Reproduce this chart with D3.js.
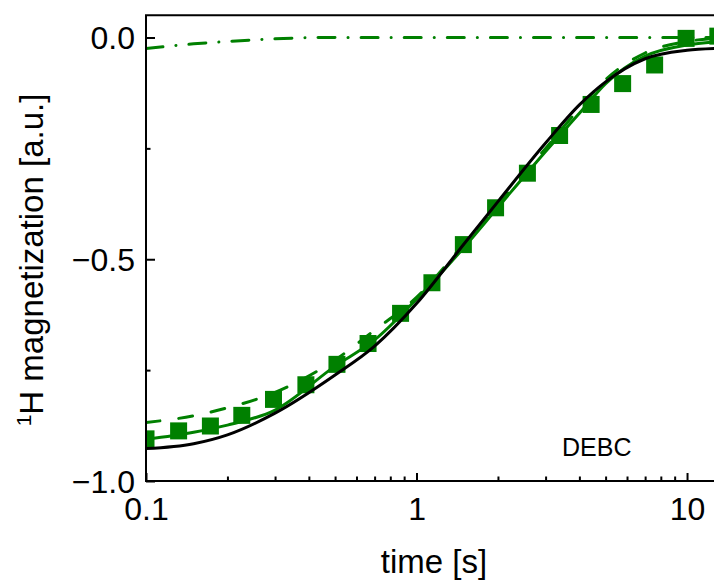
<!DOCTYPE html>
<html>
<head>
<meta charset="utf-8">
<script src="https://cdn.jsdelivr.net/npm/d3@7"></script>
<style>
  body { margin: 0; background: #fff; }
  svg { display: block; }
  text { font-family: "Liberation Sans", Arial, Helvetica, sans-serif; fill: #000; }
</style>
</head>
<body>
<svg id="chart" width="714" height="580"></svg>
<script>
// Measured 1H magnetization recovery (DEBC)
const pointTime = [0.1, 0.132, 0.173, 0.226, 0.296, 0.39, 0.508, 0.662, 0.873, 1.14,
                   1.49, 1.96, 2.57, 3.38, 4.42, 5.78, 7.59, 9.92, 13.0];
const pointMag  = [-0.905, -0.887, -0.876, -0.852, -0.816, -0.783, -0.737, -0.690, -0.622, -0.553,
                   -0.467, -0.384, -0.306, -0.221, -0.151, -0.104, -0.062, -0.002, 0.003];

// Model curves sampled on a common time grid
const fitTime        = [0.1, 0.15, 0.2, 0.3, 0.5, 0.7, 1, 1.5, 2, 3, 4, 5, 7, 10, 12.6];
const fitBlack       = [-0.927, -0.916, -0.896, -0.847, -0.761, -0.696, -0.600, -0.465, -0.370, -0.238, -0.152, -0.100, -0.048, -0.029, -0.025];
const fitGreen       = [-0.906, -0.890, -0.874, -0.840, -0.741, -0.682, -0.590, -0.473, -0.383, -0.257, -0.171, -0.104, -0.042, -0.017, -0.010];
const fitGreenDashed = [-0.868, -0.853, -0.835, -0.800, -0.727, -0.660, -0.586, -0.465, -0.378, -0.250, -0.160, -0.095, -0.035, -0.009, -0.002];
const fitGreenDashDot= [-0.025, -0.0144, -0.009, -0.003, 0, 0, 0, 0, 0, 0, 0, 0, 0, 0, 0];

// Axis ticks
const xMajorTicks = [0.1, 1, 10];
const xTickLabels = ["0.1", "1", "10"];
const xMinorTicks = [0.2, 0.3, 0.4, 0.5, 0.6, 0.7, 0.8, 0.9, 2, 3, 4, 5, 6, 7, 8, 9];
const yMajorTicks = [-1, -0.5, 0];
const yTickLabels = ["\u22121.0", "\u22120.5", "0.0"];
const yMinorTicks = [-0.75, -0.25];

const GREEN = "#008000";
const W = 714, H = 580;
const plot = { left: 146, top: 15.3, right: 714, bottom: 481 };

const svg = d3.select("#chart");

const x = d3.scaleLog().domain([0.1, 12.58]).range([plot.left, plot.right]);
const y = d3.scaleLinear().domain([-1, 0.05]).range([plot.bottom, plot.top]);

svg.append("defs").append("clipPath").attr("id", "plotClip")
  .append("rect")
  .attr("x", plot.left).attr("y", plot.top)
  .attr("width", plot.right - plot.left).attr("height", plot.bottom - plot.top);

const body = svg.append("g").attr("clip-path", "url(#plotClip)");

// data squares
const sq = 17;
body.append("g").selectAll("rect")
  .data(pointTime.map((t, i) => [t, pointMag[i]]))
  .join("rect")
  .attr("x", d => x(d[0]) - sq / 2)
  .attr("y", d => y(d[1]) - sq / 2)
  .attr("width", sq).attr("height", sq)
  .attr("fill", GREEN);

const line = d3.line()
  .x(d => x(d[0]))
  .y(d => y(d[1]))
  .curve(d3.curveMonotoneX);

function drawFit(values, color, dash) {
  body.append("path")
    .datum(fitTime.map((t, i) => [t, values[i]]))
    .attr("d", line)
    .attr("fill", "none")
    .attr("stroke", color)
    .attr("stroke-width", 3)
    .attr("stroke-linecap", dash ? "round" : "butt")
    .attr("stroke-dasharray", dash || null);
}

drawFit(fitGreenDashDot, GREEN, "17,13,0.1,13");
drawFit(fitGreenDashed, GREEN, "14,19");
drawFit(fitGreen, GREEN, null);
drawFit(fitBlack, "#000", null);

// axes: inward ticks, labels outside
const xMajor = svg.append("g").attr("transform", `translate(0,${plot.bottom})`)
  .call(d3.axisBottom(x).tickValues(xMajorTicks).tickSize(-8)
        .tickFormat((d, i) => xTickLabels[i]));
const xMinor = svg.append("g").attr("transform", `translate(0,${plot.bottom})`)
  .call(d3.axisBottom(x).tickValues(xMinorTicks).tickSize(-4.5).tickFormat(""));
const yMajor = svg.append("g").attr("transform", `translate(${plot.left},0)`)
  .call(d3.axisLeft(y).tickValues(yMajorTicks).tickSize(-9)
        .tickFormat((d, i) => yTickLabels[i]));
const yMinor = svg.append("g").attr("transform", `translate(${plot.left},0)`)
  .call(d3.axisLeft(y).tickValues(yMinorTicks).tickSize(-4.5).tickFormat(""));

[xMajor, xMinor, yMajor, yMinor].forEach(g => {
  g.select(".domain").remove();
  g.selectAll(".tick line").attr("stroke", "#000").attr("stroke-width", 2);
});

xMajor.selectAll(".tick text")
  .attr("y", 39).attr("dy", null)
  .attr("font-size", 32).attr("fill", "#000")
  .attr("font-family", '"Liberation Sans", Arial, sans-serif');
yMajor.selectAll(".tick text")
  .attr("x", -11).attr("dy", 11)
  .attr("font-size", 32).attr("fill", "#000")
  .attr("font-family", '"Liberation Sans", Arial, sans-serif');

// frame lines
const frame = svg.append("g").attr("stroke", "#000").attr("stroke-width", 2);
frame.append("line").attr("x1", plot.left).attr("x2", plot.left)
  .attr("y1", plot.top).attr("y2", plot.bottom + 1);
frame.append("line").attr("x1", plot.left - 1).attr("x2", W)
  .attr("y1", plot.bottom).attr("y2", plot.bottom);
frame.append("line").attr("x1", plot.left - 1).attr("x2", W)
  .attr("y1", plot.top).attr("y2", plot.top);

// sample label
svg.append("text")
  .attr("x", 562).attr("y", 456)
  .attr("font-size", 25)
  .text("DEBC");

// axis titles
svg.append("text")
  .attr("x", 434).attr("y", 573)
  .attr("text-anchor", "middle")
  .attr("font-size", 33)
  .text("time [s]");

const yTitle = svg.append("text")
  .attr("transform", "translate(43,260) rotate(-90)")
  .attr("text-anchor", "middle")
  .attr("font-size", 33);
yTitle.append("tspan").attr("font-size", 21).attr("dy", -12).text("1");
yTitle.append("tspan").attr("dy", 12).text("H magnetization [a.u.]");
</script>
</body>
</html>
